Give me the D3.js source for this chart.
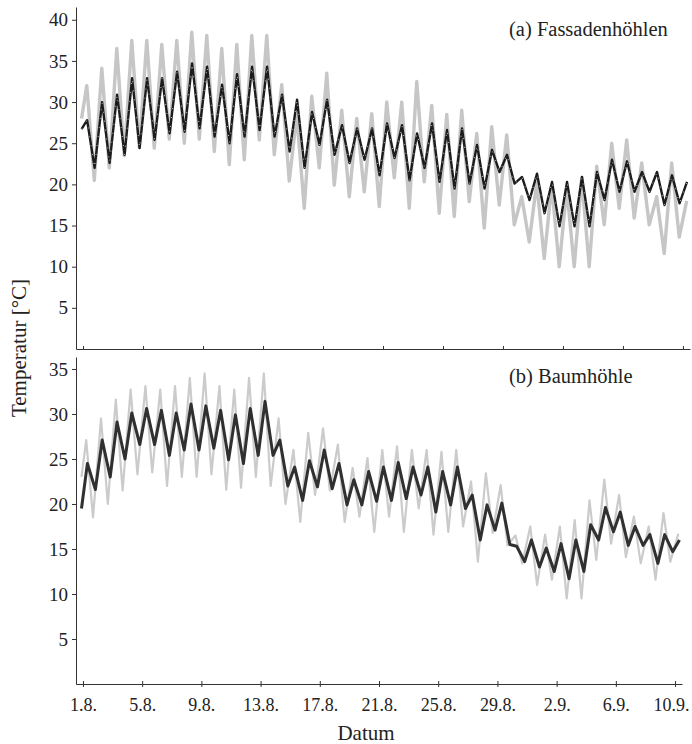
<!DOCTYPE html>
<html>
<head>
<meta charset="utf-8">
<script src="https://cdn.jsdelivr.net/npm/d3@7"></script>
<style>
  body { margin: 0; background: #fff; }
  #chart text { font-family: "Liberation Serif", "Times New Roman", Times, "DejaVu Serif", serif; }
</style>
</head>
<body>
<svg id="chart" width="692" height="744"></svg>
<script>
// x axis: days since 1.8.
const dayTicks = [0, 4, 8, 12, 16, 20, 24, 28, 32, 36, 40];
const dayLabels = ["1.8.", "5.8.", "9.8.", "13.8.", "17.8.", "21.8.", "25.8.", "29.8.", "2.9.", "6.9.", "10.9."];
const ticksA = [5, 10, 15, 20, 25, 30, 35, 40];
const ticksB = [5, 10, 15, 20, 25, 30, 35];

// (a) Fassadenhoehlen - daily maxima / minima
const outsideA_start = 28.0;
const outsideA_max = [32.0, 34.1, 36.5, 37.5, 37.5, 37.0, 37.5, 38.5, 38.1, 36.5, 37.0, 38.1, 38.1, 32.1, 28.4, 30.7, 33.5, 29.0, 28.0, 28.6,
  30.0, 30.0, 32.5, 29.6, 28.5, 29.0, 26.2, 27.0, 26.0, 18.5, 20.2, 19.9, 19.5, 20.8, 22.2, 25.0, 25.4, 22.6, 18.5, 22.6, 18.0];
const outsideA_min = [20.5, 22.0, 23.5, 24.5, 24.4, 25.5, 25.0, 25.5, 24.0, 22.4, 23.0, 25.4, 23.6, 20.4, 17.1, 22.0, 19.9, 18.5, 19.1, 17.3,
  20.8, 17.1, 20.3, 16.5, 16.1, 17.9, 14.7, 17.5, 15.1, 13.0, 11.0, 10.0, 10.0, 10.0, 15.1, 17.1, 15.9, 15.1, 11.6, 13.6];

const cavityA_start = 26.7;
const cavityA_max = [27.8, 30.0, 30.9, 32.9, 32.9, 32.9, 33.7, 34.7, 34.3, 32.1, 33.4, 34.3, 34.3, 30.9, 30.3, 28.8, 30.3, 27.2, 26.8, 26.8,
  27.4, 27.2, 26.2, 27.4, 26.6, 26.8, 24.8, 24.2, 23.6, 20.9, 21.3, 20.3, 20.3, 20.9, 21.5, 23.0, 22.8, 21.5, 21.5, 21.1, 20.3];
const cavityA_min = [22.0, 22.6, 23.6, 24.4, 25.4, 26.2, 26.4, 26.8, 25.8, 25.0, 25.8, 26.6, 25.8, 24.0, 22.0, 24.8, 23.6, 22.6, 23.0, 21.1,
  23.2, 20.5, 22.0, 20.3, 19.5, 20.1, 19.5, 21.5, 20.1, 18.1, 16.5, 14.9, 14.9, 14.9, 18.1, 19.1, 19.1, 19.1, 17.5, 17.7];

// (b) Baumhoehle
const outsideB_start = 23.0;
const outsideB_max = [27.1, 29.5, 31.6, 32.7, 33.1, 32.7, 33.1, 34.0, 34.5, 33.1, 32.7, 34.0, 34.5, 29.5, 26.0, 27.9, 28.4, 26.6, 24.0, 25.1,
  26.0, 26.4, 26.0, 26.0, 25.8, 26.0, 22.5, 23.4, 22.1, 16.5, 17.5, 16.6, 17.5, 18.2, 20.4, 22.7, 21.0, 18.6, 17.5, 19.0, 16.7];
const outsideB_min = [18.5, 20.0, 21.5, 23.3, 23.5, 22.0, 23.0, 23.0, 23.3, 21.6, 21.8, 23.0, 22.0, 20.0, 18.0, 21.0, 21.5, 18.0, 18.6, 16.9,
  18.6, 16.9, 19.5, 16.6, 16.9, 17.5, 13.6, 16.8, 15.4, 13.4, 11.0, 11.6, 9.5, 9.5, 13.8, 15.6, 14.1, 13.4, 11.6, 13.6];

const cavityB_start = 19.5;
const cavityB_max = [24.5, 27.1, 29.1, 30.1, 30.6, 30.4, 30.1, 31.1, 30.9, 30.4, 29.9, 30.6, 31.4, 27.1, 24.1, 24.8, 26.0, 24.5, 22.7, 23.6,
  24.1, 24.6, 24.1, 24.1, 23.6, 24.1, 21.0, 19.9, 20.1, 15.3, 16.0, 15.1, 15.6, 16.0, 17.7, 19.6, 19.1, 17.5, 16.6, 16.6, 16.0];
const cavityB_min = [21.6, 23.0, 25.0, 26.6, 26.6, 25.4, 26.0, 26.0, 26.2, 24.9, 24.5, 25.4, 25.4, 22.0, 20.4, 21.9, 21.7, 19.9, 19.9, 20.3,
  20.4, 20.6, 21.0, 19.1, 19.9, 19.5, 16.0, 17.1, 15.5, 13.6, 13.0, 12.5, 11.7, 12.5, 16.0, 16.9, 15.4, 15.4, 13.4, 14.7];

// turn daily max/min into a sequence of (time, value) points
function toPoints(start, peaks, troughs, tPeak, tMin) {
    const pts = [{ t: -0.1, v: start }];
    peaks.forEach((p, i) => {
        pts.push({ t: i + tPeak, v: p });
        if (i < troughs.length) pts.push({ t: i + tMin, v: troughs[i] });
    });
    return pts;
}

const svg = d3.select("#chart");

// the two panels are not quite the same width in the original
const xA = d3.scaleLinear().domain([-0.47, 40.47]).range([76, 690]);
const xB = d3.scaleLinear().domain([-0.47, 40.47]).range([76, 682]);
const yA = d3.scaleLinear().domain([0, 41.55]).range([349, 7]);
const yB = d3.scaleLinear().domain([0, 36.33]).range([684, 357]);

function drawLine(x, y, data, color, width) {
    const line = d3.line().x(d => x(d.t)).y(d => y(d.v));
    return svg.append("path")
        .datum(data)
        .attr("d", line)
        .attr("fill", "none")
        .attr("stroke", color)
        .attr("stroke-width", width)
        .attr("stroke-linejoin", "round");
}

// Panel (a)
drawLine(xA, yA, toPoints(outsideA_start, outsideA_max, outsideA_min, 0.25, 0.75), "#c6c6c6", 3.4);
const cavA = toPoints(cavityA_start, cavityA_max, cavityA_min, 0.27, 0.77);
drawLine(xA, yA, cavA, "#1c1c1c", 2.4);
// white specks inside the dark band (several overlapping loggers)
drawLine(xA, yA, cavA, "#fff", 0.7).attr("stroke-dasharray", "1 8");

// Panel (b)
drawLine(xB, yB, toPoints(outsideB_start, outsideB_max, outsideB_min, 0.22, 0.68), "#cbcbcb", 2.2);
drawLine(xB, yB, toPoints(cavityB_start, cavityB_max, cavityB_min, 0.3, 0.84), "#303030", 3);

// axes
function styleAxis(g, size) {
    g.attr("font-family", null).attr("font-size", size);
    g.selectAll("path, line").attr("stroke", "#333");
    g.selectAll("text").attr("fill", "#222");
}

svg.append("g")
    .attr("transform", "translate(76,0)")
    .call(d3.axisLeft(yA).tickValues(ticksA).tickSize(4).tickSizeOuter(0).tickPadding(4))
    .call(g => styleAxis(g, 19));

svg.append("g")
    .attr("transform", "translate(76,0)")
    .call(d3.axisLeft(yB).tickValues(ticksB).tickSize(4).tickSizeOuter(0).tickPadding(4))
    .call(g => styleAxis(g, 19));

svg.append("g")
    .attr("transform", "translate(0,349)")
    .call(d3.axisTop(xA).tickValues(dayTicks).tickSize(3).tickSizeOuter(0).tickFormat(""))
    .call(g => styleAxis(g, 19));

svg.append("g")
    .attr("transform", "translate(0,684)")
    .call(d3.axisBottom(xB).tickValues(dayTicks).tickSize(3).tickSizeOuter(0).tickPadding(11)
        .tickFormat((d, i) => dayLabels[i]))
    .call(g => styleAxis(g, 18))
    .call(g => g.selectAll(".tick line").attr("y1", -3))
    // last label would run off the right edge: end it just inside
    .call(g => g.selectAll(".tick:last-of-type text").attr("text-anchor", "end").attr("x", 14));

// titles
function label(txt, size) {
    return svg.append("text").attr("font-size", size).attr("fill", "#222").text(txt);
}
label("Datum", 21).attr("x", 366).attr("y", 740).attr("text-anchor", "middle");
label("Temperatur [°C]", 21).attr("transform", "translate(26,348) rotate(-90)").attr("text-anchor", "middle");
label("(a) Fassadenhöhlen", 20.5).attr("x", 509).attr("y", 36);
label("(b) Baumhöhle", 20.5).attr("x", 509).attr("y", 383);
</script>
</body>
</html>
